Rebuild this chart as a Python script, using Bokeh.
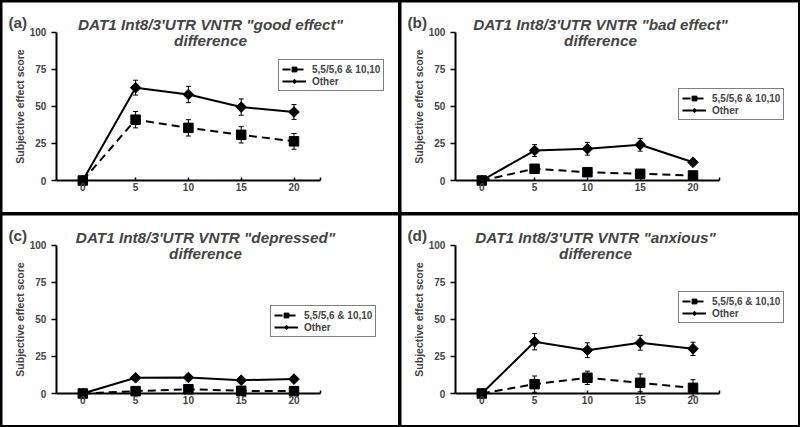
import numpy as np
from bokeh.plotting import figure
from bokeh.models import (ColumnDataSource, Range1d, FixedTicker, Whisker, TeeHead,
                          Legend, LegendItem, Label, GridBox)
from bokeh.embed import file_html
from bokeh.resources import INLINE

# ---------------- data ----------------
times = [0, 5, 10, 15, 20]
x_ticks = [0, 5, 10, 15, 20]
y_ticks = [0, 25, 50, 75, 100]
series_names = ["5,5/5,6 & 10,10", "Other"]

panel_letters = ["(a)", "(b)", "(c)", "(d)"]
panel_titles = ['DAT1 Int8/3\'UTR VNTR "good effect"',
                'DAT1 Int8/3\'UTR VNTR "bad effect"',
                'DAT1 Int8/3\'UTR VNTR "depressed"',
                'DAT1 Int8/3\'UTR VNTR "anxious"']
panel_subtitle = "difference"
y_label = "Subjective effect score"

good_geno = [0, 41.0, 35.5, 30.8, 26.4]
good_geno_err = [0, 5.5, 5.5, 5.5, 5.3]
good_other = [0, 62.6, 58.0, 49.5, 46.2]
good_other_err = [0, 5.0, 5.5, 5.5, 5.0]

bad_geno = [0, 7.9, 5.6, 4.5, 3.4]
bad_geno_err = [0, 1.5, 1.5, 1.5, 1.5]
bad_other = [0, 20.2, 21.4, 24.1, 12.3]
bad_other_err = [0, 4.0, 4.3, 4.3, 2.0]

dep_geno = [0, 1.6, 2.9, 1.8, 1.6]
dep_geno_err = [0, 1.0, 1.0, 1.0, 1.0]
dep_other = [0, 10.6, 10.8, 9.0, 9.7]
dep_other_err = [0, 1.5, 1.5, 1.5, 1.5]

anx_geno = [0, 6.3, 10.6, 7.2, 3.8]
anx_geno_err = [0, 5.5, 4.5, 6.0, 5.5]
anx_other = [0, 34.9, 29.2, 34.2, 30.1]
anx_other_err = [0, 5.5, 5.0, 5.0, 4.5]

panels = [
    (good_geno, good_geno_err, good_other, good_other_err),
    (bad_geno, bad_geno_err, bad_other, bad_other_err),
    (dep_geno, dep_geno_err, dep_other, dep_other_err),
    (anx_geno, anx_geno_err, anx_other, anx_other_err),
]

# ---------------- layout (pixels) ----------------
FONT = "Liberation Sans"
W = [396, 397, 396, 397]
H = 210
KX, KY = 10.56, 1.483          # px per data unit
X0PX, Y0PX = 80.3, 178.0       # pixel position of x=0 / y=0 inside each panel
title_cx = [208, 199, 203, 194]
legend_top = [59, 88, 92, 78]
legend_left = [276, 277, 268, 277]
LEG_H = 30


def make_panel(i):
    geno, geno_err, other, other_err = panels[i]
    w = W[i]
    xr = Range1d(-X0PX / KX, (w - X0PX) / KX)
    yr = Range1d(-(H - Y0PX) / KY, Y0PX / KY)
    p = figure(width=w, height=H, output_backend="svg", toolbar_location=None,
               x_range=xr, y_range=yr, min_border=0,
               background_fill_color="white", border_fill_color="white")
    p.title.visible = False
    p.outline_line_color = None
    p.grid.visible = False

    # axes
    xa = p.xaxis[0]
    xa.fixed_location = 0
    xa.bounds = (-2.5, 22.5)
    xa.ticker = FixedTicker(ticks=x_ticks + [22.5])
    xa.major_label_overrides = {22.5: ""}
    xa.major_tick_in = 3
    xa.major_tick_out = 0
    xa.minor_tick_line_color = None
    xa.axis_line_width = 2
    xa.major_tick_line_width = 1.5
    xa.major_label_text_font = FONT
    xa.major_label_text_font_style = "bold"
    xa.major_label_text_font_size = "10px"
    xa.major_label_standoff = 2

    ya = p.yaxis[0]
    ya.fixed_location = -2.5
    ya.bounds = (0, 100)
    ya.ticker = FixedTicker(ticks=y_ticks)
    ya.major_tick_in = 0
    ya.major_tick_out = 5
    ya.minor_tick_line_color = None
    ya.axis_line_width = 2
    ya.major_tick_line_width = 1.5
    ya.major_label_text_font = FONT
    ya.major_label_text_font_style = "bold"
    ya.major_label_text_font_size = "10px"
    ya.major_label_standoff = 5
    ya.axis_label = y_label
    ya.axis_label_text_font = FONT
    ya.axis_label_text_font_style = "bold"
    ya.axis_label_text_font_size = "10.5px"
    ya.axis_label_standoff = 1

    src_g = ColumnDataSource(dict(x=times, y=geno,
                                  lo=[v - e for v, e in zip(geno, geno_err)],
                                  hi=[v + e for v, e in zip(geno, geno_err)]))
    src_o = ColumnDataSource(dict(x=times, y=other,
                                  lo=[v - e for v, e in zip(other, other_err)],
                                  hi=[v + e for v, e in zip(other, other_err)]))

    for src in (src_g, src_o):
        wk = Whisker(source=src, base="x", lower="lo", upper="hi",
                     line_color="black", line_width=1,
                     lower_head=TeeHead(size=5, line_width=1, line_color="black"),
                     upper_head=TeeHead(size=5, line_width=1, line_color="black"))
        p.add_layout(wk)

    lg = p.line("x", "y", source=src_g, line_color="black", line_width=2, line_dash="8 5")
    mg = p.scatter("x", "y", source=src_g, marker="square", size=9.5,
                   fill_color="black", line_color="black")
    lo = p.line("x", "y", source=src_o, line_color="black", line_width=2)
    mo = p.scatter("x", "y", source=src_o, marker="square", size=7.5, angle=np.pi / 4,
                   fill_color="black", line_color="black")
    # diamond glyph used for the legend entry only (rotation is not shown in legends)
    mo_leg = p.scatter("x", "y", source=src_o, marker="diamond", size=10,
                       fill_color="black", line_color="black", visible=False)

    leg = Legend(items=[LegendItem(label=series_names[0], renderers=[lg, mg]),
                        LegendItem(label=series_names[1], renderers=[lo, mo_leg])],
                 location=(legend_left[i], H - legend_top[i] - LEG_H),
                 border_line_color="black", border_line_width=1.5,
                 background_fill_color="white", background_fill_alpha=1,
                 padding=3, spacing=0, margin=0,
                 glyph_width=24, glyph_height=12, label_height=12,
                 label_standoff=6,
                 label_text_font=FONT, label_text_font_style="bold",
                 label_text_font_size="10px")
    p.add_layout(leg, "center")

    # titles and panel letter (screen units: from frame bottom-left, y up)
    common = dict(x_units="screen", y_units="screen", text_baseline="alphabetic",
                  text_font=FONT, text_font_size="15.3px")
    p.add_layout(Label(x=title_cx[i], y=H - 22, text=panel_titles[i], text_align="center",
                       text_font_style="bold italic", **common))
    p.add_layout(Label(x=title_cx[i], y=H - 38, text=panel_subtitle, text_align="center",
                       text_font_style="bold italic", **common))
    p.add_layout(Label(x=6, y=H - 20, text=panel_letters[i], text_align="left",
                       text_font_style="bold", **common))
    return p


figs = [make_panel(i) for i in range(4)]

grid = GridBox(children=[(figs[0], 0, 0), (figs[1], 0, 1), (figs[2], 1, 0), (figs[3], 1, 1)],
               spacing=3,
               styles={"background-color": "black", "padding": "2px"})

open("out.html", "w").write(file_html(grid, INLINE))
